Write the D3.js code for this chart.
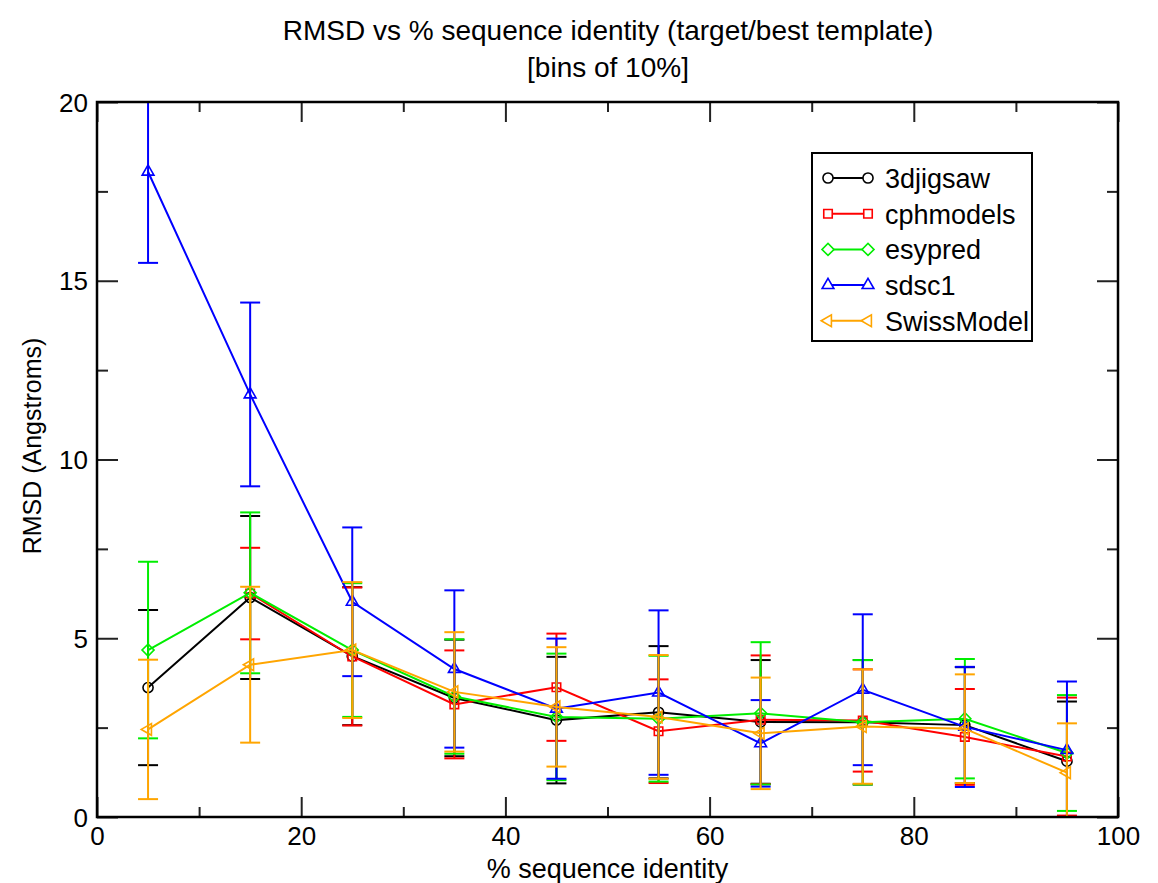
<!DOCTYPE html>
<html>
<head>
<meta charset="utf-8">
<script src="https://cdn.jsdelivr.net/npm/d3@7"></script>
<style>
  body { margin: 0; background: #fff; }
  text { font-family: 'Liberation Sans', Arial, Helvetica, sans-serif; fill: #000; }
</style>
</head>
<body>
<div id="chart"></div>
<script>
const bins = [5, 15, 25, 35, 45, 55, 65, 75, 85, 95]

const jigsawMean = [3.62, 6.14, 4.5, 3.33, 2.71, 2.93, 2.66, 2.65, 2.57, 1.56]
const jigsawErr = [2.17, 2.28, 1.93, 1.63, 1.77, 1.85, 1.73, 1.74, 1.62, 1.67]

const cphMean = [null, 6.25, 4.49, 3.15, 3.63, 2.4, 2.72, 2.7, 2.24, 1.69]
const cphErr = [null, 1.28, 1.93, 1.51, 1.5, 1.45, 1.8, 1.43, 1.34, 1.65]

const esyMean = [4.67, 6.27, 4.67, 3.37, 2.8, 2.75, 2.9, 2.65, 2.75, 1.79]
const esyErr = [2.47, 2.25, 1.87, 1.6, 1.77, 1.76, 1.99, 1.74, 1.67, 1.62]

const sdscMean = [18.05, 11.82, 6.02, 4.14, 3.03, 3.48, 2.06, 3.56, 2.52, 1.87]
const sdscErr = [2.55, 2.57, 2.08, 2.2, 1.96, 2.3, 1.21, 2.11, 1.68, 1.92]

const swissMean = [2.45, 4.26, 4.67, 3.5, 3.08, 2.8, 2.34, 2.53, 2.47, 1.24]
const swissErr = [1.95, 2.18, 1.9, 1.67, 1.67, 1.73, 1.56, 1.6, 1.52, 1.38]

const xMajorTicks = [0, 20, 40, 60, 80, 100]
const xMinorTicks = [10, 30, 50, 70, 90]
const yMajorTicks = [0, 5, 10, 15, 20]
const yMinorTicks = [2.5, 7.5, 12.5, 17.5]

const series = [
  { name: '3djigsaw', mean: jigsawMean, err: jigsawErr, color: '#000000', shape: 'circle' },
  { name: 'cphmodels', mean: cphMean, err: cphErr, color: '#ff0000', shape: 'square' },
  { name: 'esypred', mean: esyMean, err: esyErr, color: '#00ee00', shape: 'diamond' },
  { name: 'sdsc1', mean: sdscMean, err: sdscErr, color: '#0000ff', shape: 'triangle' },
  { name: 'SwissModel', mean: swissMean, err: swissErr, color: '#ffa500', shape: 'left' }
]

const margin = { top: 102, right: 40, bottom: 66, left: 97 }
const width = 1158 - margin.left - margin.right
const height = 883 - margin.top - margin.bottom

const root = d3
  .select('#chart')
  .append('svg')
  .attr('width', 1158)
  .attr('height', 883)

const svg = root
  .append('g')
  .attr('transform', 'translate(' + margin.left + ',' + margin.top + ')')

const xPositionScale = d3.scaleLinear().domain([0, 100]).range([0, width])
const yPositionScale = d3.scaleLinear().domain([0, 20]).range([height, 0])

svg
  .append('clipPath')
  .attr('id', 'plot-clip')
  .append('rect')
  .attr('width', width)
  .attr('height', height)

// axes: ticks point inward on all four sides
function drawAxis(axis, transform, labels) {
  const g = svg
    .append('g')
    .attr('transform', transform)
    .call(axis)
  g.select('.domain').remove()
  g.selectAll('.tick line').attr('stroke', '#222').attr('stroke-width', 2)
  if (!labels) g.selectAll('.tick text').remove()
  return g
}

const xMajor = d3.axisBottom(xPositionScale).tickValues(xMajorTicks).tickSize(-20).tickPadding(28)
const xMinor = d3.axisBottom(xPositionScale).tickValues(xMinorTicks).tickSize(-10).tickFormat('')
const xTopMajor = d3.axisTop(xPositionScale).tickValues(xMajorTicks).tickSize(-20).tickFormat('')
const xTopMinor = d3.axisTop(xPositionScale).tickValues(xMinorTicks).tickSize(-10).tickFormat('')
const yMajor = d3.axisLeft(yPositionScale).tickValues(yMajorTicks).tickSize(-21).tickPadding(9)
const yMinor = d3.axisLeft(yPositionScale).tickValues(yMinorTicks).tickSize(-11).tickFormat('')
const yRightMajor = d3.axisRight(yPositionScale).tickValues(yMajorTicks).tickSize(-21).tickFormat('')
const yRightMinor = d3.axisRight(yPositionScale).tickValues(yMinorTicks).tickSize(-11).tickFormat('')

const xg = drawAxis(xMajor, 'translate(0,' + height + ')', true)
drawAxis(xMinor, 'translate(0,' + height + ')', false)
drawAxis(xTopMajor, 'translate(0,0)', false)
drawAxis(xTopMinor, 'translate(0,0)', false)
const yg = drawAxis(yMajor, 'translate(0,0)', true)
drawAxis(yMinor, 'translate(0,0)', false)
drawAxis(yRightMajor, 'translate(' + width + ',0)', false)
drawAxis(yRightMinor, 'translate(' + width + ',0)', false)

xg.selectAll('.tick text').attr('font-size', 26).attr('fill', '#000').attr('dy', '0')
yg.selectAll('.tick text').attr('font-size', 26).attr('fill', '#000').attr('dy', '0.35em')

function symbolPath(shape) {
  if (shape === 'circle') return d3.symbol(d3.symbolCircle, 80)()
  if (shape === 'square' || shape === 'diamond') return d3.symbol(d3.symbolSquare, 72)()
  return d3.symbol(d3.symbolTriangle, 60)()
}

function symbolRotate(shape) {
  if (shape === 'diamond') return 45
  if (shape === 'left') return -90
  return 0
}

const plot = svg.append('g').attr('clip-path', 'url(#plot-clip)')

const line = d3
  .line()
  .defined(d => d.y != null)
  .x(d => xPositionScale(d.x))
  .y(d => yPositionScale(d.y))

series.forEach(s => {
  const points = bins
    .map((x, i) => ({ x: x, y: s.mean[i], e: s.err[i] }))
    .filter(d => d.y != null)

  const g = plot.append('g').attr('class', 'series')

  g.append('path')
    .datum(points)
    .attr('fill', 'none')
    .attr('stroke', s.color)
    .attr('stroke-width', 2)
    .attr('d', line)

  // error bars
  g.selectAll('.bar')
    .data(points)
    .enter()
    .append('line')
    .attr('x1', d => xPositionScale(d.x))
    .attr('x2', d => xPositionScale(d.x))
    .attr('y1', d => yPositionScale(d.y + d.e))
    .attr('y2', d => yPositionScale(d.y - d.e))
    .attr('stroke', s.color)
    .attr('stroke-width', 2)

  const caps = points.flatMap(d => [{ x: d.x, y: d.y + d.e }, { x: d.x, y: d.y - d.e }])
  g.selectAll('.cap')
    .data(caps)
    .enter()
    .append('line')
    .attr('x1', d => xPositionScale(d.x) - 10)
    .attr('x2', d => xPositionScale(d.x) + 10)
    .attr('y1', d => yPositionScale(d.y))
    .attr('y2', d => yPositionScale(d.y))
    .attr('stroke', s.color)
    .attr('stroke-width', 2)

  g.selectAll('.marker')
    .data(points)
    .enter()
    .append('path')
    .attr('d', symbolPath(s.shape))
    .attr('transform', d => 'translate(' + xPositionScale(d.x) + ',' + yPositionScale(d.y) + ') rotate(' + symbolRotate(s.shape) + ')')
    .attr('fill', 'none')
    .attr('stroke', s.color)
    .attr('stroke-width', 1.6)
})

// frame
svg
  .append('rect')
  .attr('width', width)
  .attr('height', height)
  .attr('fill', 'none')
  .attr('stroke', '#000')
  .attr('stroke-width', 2.5)

// legend
const legend = root.append('g').attr('transform', 'translate(812,153)')
legend
  .append('rect')
  .attr('width', 220)
  .attr('height', 188)
  .attr('fill', '#fff')
  .attr('stroke', '#000')
  .attr('stroke-width', 2)

series.forEach((s, i) => {
  const y = 25 + i * 35.7
  legend
    .append('line')
    .attr('x1', 16)
    .attr('x2', 56)
    .attr('y1', y)
    .attr('y2', y)
    .attr('stroke', s.color)
    .attr('stroke-width', 2)
  ;[16, 56].forEach(x => {
    legend
      .append('path')
      .attr('d', symbolPath(s.shape))
      .attr('transform', 'translate(' + x + ',' + y + ') rotate(' + symbolRotate(s.shape) + ')')
      .attr('fill', '#fff')
      .attr('stroke', s.color)
      .attr('stroke-width', 1.6)
  })
  legend
    .append('text')
    .attr('x', 73)
    .attr('y', y + 10)
    .attr('font-size', 27)
    .text(s.name)
})

// titles
root
  .append('text')
  .attr('x', 608)
  .attr('y', 40)
  .attr('text-anchor', 'middle')
  .attr('font-size', 28)
  .text('RMSD vs % sequence identity (target/best template)')

root
  .append('text')
  .attr('x', 608)
  .attr('y', 77)
  .attr('text-anchor', 'middle')
  .attr('font-size', 28)
  .text('[bins of 10%]')

root
  .append('text')
  .attr('x', margin.left + width / 2)
  .attr('y', 878)
  .attr('text-anchor', 'middle')
  .attr('font-size', 27)
  .text('% sequence identity')

root
  .append('text')
  .attr('transform', 'translate(41,446) rotate(-90)')
  .attr('text-anchor', 'middle')
  .attr('font-size', 25)
  .text('RMSD (Angstroms)')
</script>
</body>
</html>
